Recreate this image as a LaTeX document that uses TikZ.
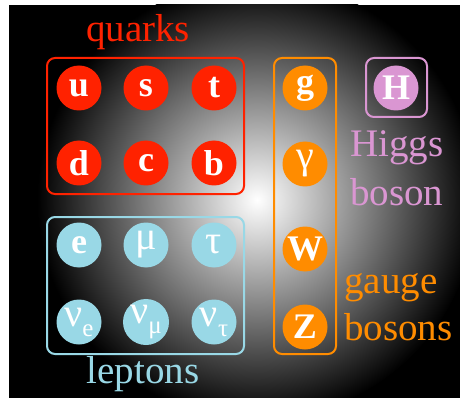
\documentclass[tikz,border=0pt]{standalone}
\usepackage{fontspec}
\setmainfont{Liberation Serif}
\definecolor{qred}{RGB}{255,34,0}
\definecolor{lblue}{RGB}{153,216,230}
\definecolor{gorange}{RGB}{255,140,0}
\definecolor{hpink}{RGB}{218,150,210}
\pgfdeclareradialshading{glow}{\pgfpoint{0bp}{0bp}}{color(0bp)=(white); color(25bp)=(black); color(50bp)=(black)}
\newcommand{\grk}[1]{{\fontsize{40}{40}\selectfont #1}}
\newcommand{\nusub}[1]{\grk{ν}\raisebox{-0.28em}{\fontsize{25}{25}\selectfont #1}}
\begin{document}
\begin{tikzpicture}[x=1pt,y=-1pt,
  particle/.style={circle, minimum size=45pt, inner sep=0pt, text=white,
    font=\fontsize{36}{36}\selectfont},
  quark/.style={particle, fill=qred},
  lepton/.style={particle, fill=lblue},
  gauge/.style={particle, fill=gorange},
  higgs/.style={particle, fill=hpink},
  groupbox/.style={rounded corners=8pt, line width=2pt},
  label/.style={font=\fontsize{39}{39}\selectfont, inner sep=0pt}]
\useasboundingbox (0,0) rectangle (460,398);
\fill[white] (0,0) rectangle (460,398);
\fill[black] (9,5) rectangle (460,398);
\begin{scope}
\clip (9,5) rectangle (460,398);
\shade[shading=glow] (257,200) circle (220);
\end{scope}
% group boxes
\draw[groupbox, qred] (47,58) rectangle (244,194);
\draw[groupbox, lblue] (47,217) rectangle (244,354);
\draw[groupbox, gorange] (274,58) rectangle (336,354);
\draw[groupbox, hpink] (366,58) rectangle (427,117);
% quarks
\node[quark] (u) at (79,88) {\textbf{u}};
\node[quark] (s) at (146,88) {\textbf{s}};
\node[quark] (t) at (214,88) {\textbf{t}};
\node[quark] (d) at (79,163) {\textbf{d}};
\node[quark] (c) at (146,163) {\textbf{c}};
\node[quark] (b) at (214,163) {\textbf{b}};
% leptons
\node[lepton] (e) at (79,245) {\textbf{e}};
\node[lepton] (mu) at (146,245) {\grk{μ}};
\node[lepton] (tau) at (214,245) {\grk{τ}};
\node[lepton] (nue) at (79,322) {\nusub{e}};
\node[lepton] (numu) at (146,322) {\nusub{μ}};
\node[lepton] (nutau) at (214,322) {\nusub{τ}};
% gauge bosons
\node[gauge] (g) at (305,88) {\textbf{g}};
\node[gauge] (gamma) at (305,164) {\grk{γ}};
\node[gauge] (W) at (305,249) {\textbf{W}};
\node[gauge] (Z) at (305,327) {\textbf{Z}};
% Higgs
\node[higgs] (H) at (396,88) {\textbf{H}};
% labels
\node[label, text=qred, anchor=base] (lq) at (138,42) {quarks};
\node[label, text=lblue, anchor=base] (ll) at (143,383) {leptons};
\node[label, text=hpink, anchor=base west] (lh1) at (350,157) {Higgs};
\node[label, text=hpink, anchor=base west] (lh2) at (350,205) {boson};
\node[label, text=gorange, anchor=base west] (lg1) at (344,293) {gauge};
\node[label, text=gorange, anchor=base west] (lg2) at (344,340) {bosons};
\end{tikzpicture}
\end{document}
